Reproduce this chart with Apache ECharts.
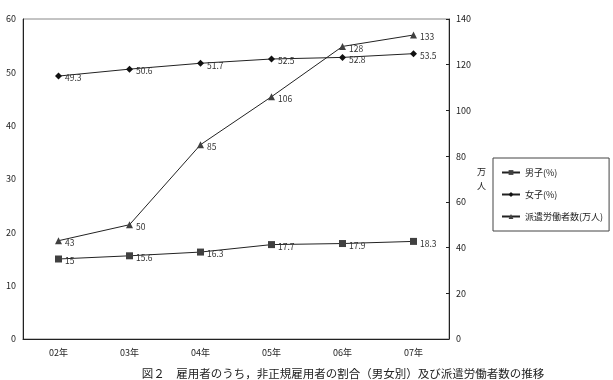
<!DOCTYPE html>
<html>
<head>
<meta charset="utf-8">
<script src="https://cdn.jsdelivr.net/npm/echarts@6/dist/echarts.min.js"></script>
<style>
  html, body { margin: 0; padding: 0; background: #fff; }
  #main { width: 613px; height: 380px; }
</style>
</head>
<body>
<div id="main"></div>
<script>
// 年
const years = ['02年', '03年', '04年', '05年', '06年', '07年'];
// 男子（%）
const male = [15, 15.6, 16.3, 17.7, 17.9, 18.3];
// 女子（%）
const female = [49.3, 50.6, 51.7, 52.5, 52.8, 53.5];
// 派遣労働者数（万人）
const dispatch = [43, 50, 85, 106, 128, 133];

const FONT = '"Noto Sans CJK JP", sans-serif';

const chart = echarts.init(document.getElementById('main'));

const labelStyle = {
  show: true,
  position: 'right',
  distance: 3,
  offset: [0, 2],
  fontSize: 8.5,
  color: '#333',
  fontFamily: FONT
};

const option = {
  animation: false,
  textStyle: { fontFamily: FONT },
  title: {
    text: '図２　雇用者のうち，非正規雇用者の割合（男女別）及び派遣労働者数の推移',
    left: 338,
    textAlign: 'center',
    top: 363,
    textStyle: { fontSize: 11.5, fontWeight: 'normal', color: '#222', fontFamily: FONT }
  },
  grid: {
    left: 23, right: 164, top: 19, bottom: 41,
    outerBoundsMode: 'none',
    show: true, borderColor: '#888', borderWidth: 1
  },
  legend: {
    orient: 'vertical',
    left: 493, top: 158,
    padding: [10, 6, 10, 8],
    itemGap: 13,
    itemWidth: 18, itemHeight: 6,
    borderColor: '#444', borderWidth: 1,
    textStyle: { fontSize: 9, color: '#222', fontFamily: FONT },
    data: ['男子(%)', '女子(%)', '派遣労働者数(万人)']
  },
  xAxis: {
    type: 'category',
    data: years,
    boundaryGap: true,
    axisLine: { lineStyle: { color: '#222' } },
    axisTick: { inside: true, length: 4, lineStyle: { color: '#222' } },
    axisLabel: { fontSize: 9, color: '#222', margin: 9, fontFamily: FONT }
  },
  yAxis: [
    {
      type: 'value', min: 0, max: 60, interval: 10,
      name: '%', nameLocation: 'middle', nameGap: 20, nameRotate: 0,
      nameTextStyle: { fontSize: 9, color: '#222' },
      axisLine: { show: true, lineStyle: { color: '#222' } },
      axisTick: { show: false },
      splitLine: { show: false },
      axisLabel: { fontSize: 9, color: '#222', margin: 7, fontFamily: FONT }
    },
    {
      type: 'value', min: 0, max: 140, interval: 20,
      name: '万\n人', nameLocation: 'middle', nameGap: 26, nameRotate: 0,
      nameTextStyle: { fontSize: 9, color: '#222', lineHeight: 14 },
      axisLine: { show: true, lineStyle: { color: '#222' } },
      axisTick: { show: true, inside: true, length: 3, lineStyle: { color: '#222' } },
      splitLine: { show: false },
      axisLabel: { fontSize: 9, color: '#222', margin: 7, fontFamily: FONT }
    }
  ],
  series: [
    {
      name: '男子(%)', type: 'line', yAxisIndex: 0, data: male,
      symbol: 'rect', symbolSize: 7,
      itemStyle: { color: '#404040' },
      lineStyle: { color: '#222', width: 1 },
      label: labelStyle
    },
    {
      name: '女子(%)', type: 'line', yAxisIndex: 0, data: female,
      symbol: 'diamond', symbolSize: 7,
      itemStyle: { color: '#111' },
      lineStyle: { color: '#222', width: 1 },
      label: labelStyle
    },
    {
      name: '派遣労働者数(万人)', type: 'line', yAxisIndex: 1, data: dispatch,
      symbol: 'triangle', symbolSize: 7,
      itemStyle: { color: '#404040' },
      lineStyle: { color: '#222', width: 1 },
      label: labelStyle
    }
  ]
};

chart.setOption(option);
</script>
</body>
</html>
